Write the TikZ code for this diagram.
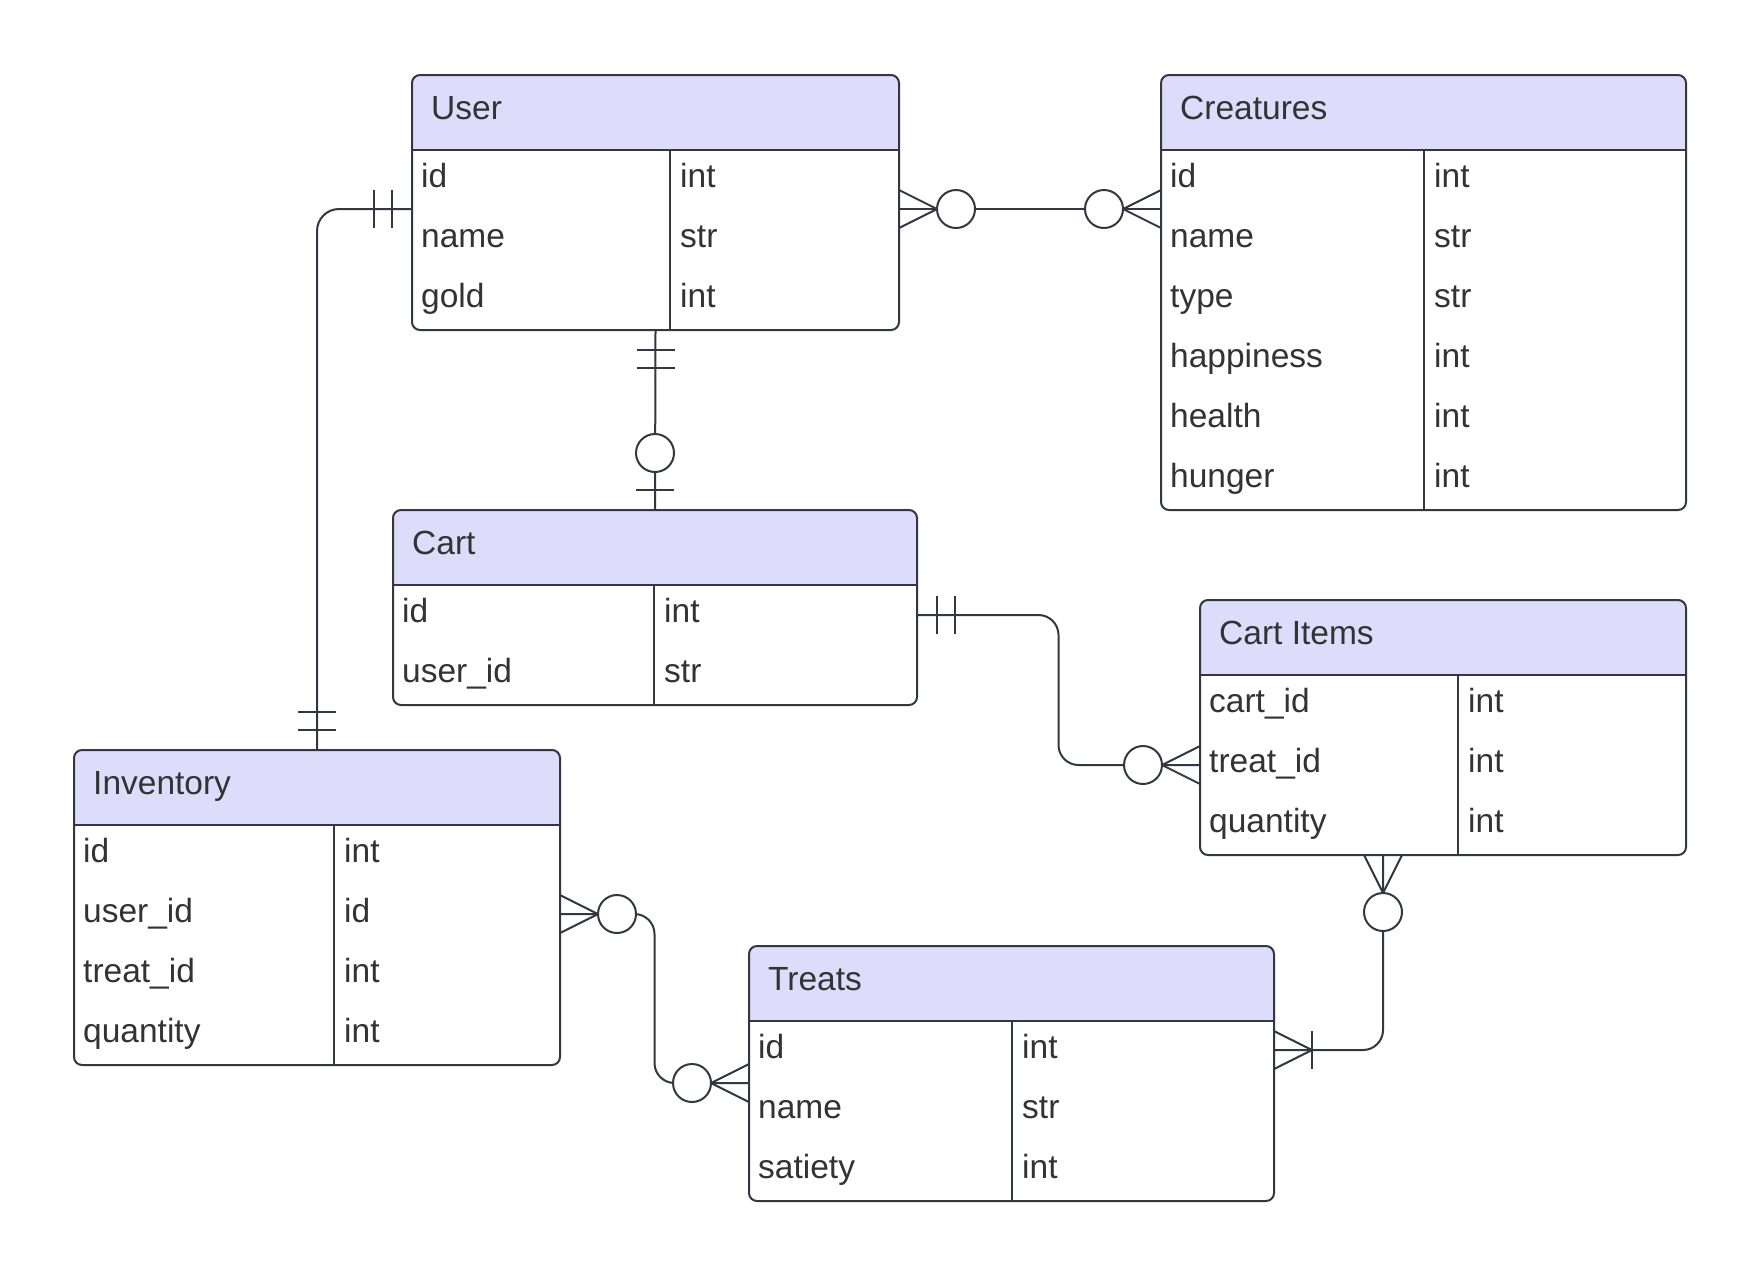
\documentclass[tikz,border=0pt]{standalone}
\usepackage{fontspec}
\setmainfont{Liberation Sans}
\usetikzlibrary{calc}
\definecolor{lnc}{RGB}{51,55,65}
\definecolor{txc}{RGB}{51,51,51}
\definecolor{hdr}{RGB}{221,221,251}
\tikzset{
  tline/.style={draw=lnc, line width=2pt},
  conn/.style={draw=lnc, line width=2pt},
  tbl/.style={draw=none, inner sep=0pt, outer sep=0pt},
  ttl/.style={inner sep=0pt, text=txc, font=\fontsize{33.5}{40}\selectfont},
  fld/.style={inner sep=0pt, text=txc, font=\fontsize{33.5}{40}\selectfont},
  pics/crowzero/.style={code={
    \draw[conn] (0,19) -- (38,0) -- (0,-19);
    \draw[conn, fill=white] (57,0) circle[radius=19];
  }},
  pics/onlyone/.style={code={
    \draw[conn] (20,19) -- (20,-19);
    \draw[conn] (38,19) -- (38,-19);
  }},
  pics/zeroone/.style={code={
    \draw[conn] (20,19) -- (20,-19);
    \draw[conn, fill=white] (57,0) circle[radius=19];
  }},
  pics/onemany/.style={code={
    \draw[conn] (0,19) -- (38,0) -- (0,-19);
    \draw[conn] (38,19) -- (38,-19);
  }}
}
% #1 name, #2 x, #3 y, #4 width, #5 divider offset, #6 rows, #7 title, #8 list
\newcommand\ertable[8]{%
  \pgfmathsetmacro\erH{75+60*#6}%
  \node[tbl, minimum width=#4pt, minimum height=\erH pt, anchor=north west] (#1) at (#2,#3) {};
  \begin{scope}
    \clip[rounded corners=8pt] (#1.north west) rectangle (#1.south east);
    \fill[hdr] (#1.north west) rectangle ([yshift=-75pt]#1.north east);
  \end{scope}
  \draw[tline, rounded corners=8pt] (#1.north west) rectangle (#1.south east);
  \draw[tline] ([yshift=-75pt]#1.north west) -- ([yshift=-75pt]#1.north east);
  \draw[tline] ([xshift=#5pt,yshift=-75pt]#1.north west) -- ([xshift=#5pt]#1.south west);
  \node[ttl, anchor=base west] (#1-title) at ([xshift=19pt,yshift=-44pt]#1.north west) {#7};
  \foreach \f/\t [count=\i] in {#8} {
    \pgfmathsetmacro\ery{-112-60*(\i-1)}
    \node[fld, anchor=base west] (#1-f\i) at ([xshift=9pt,yshift=\ery pt]#1.north west) {\f};
    \node[fld, anchor=base west] (#1-t\i) at ([xshift=#5pt+10pt,yshift=\ery pt]#1.north west) {\t};
  }
}
\begin{document}
\begin{tikzpicture}[x=1pt,y=-1pt]
\useasboundingbox (0,0) rectangle (1763,1275);
\fill[white] (0,0) rectangle (1763,1275);

\ertable{user}{412}{75}{487}{258}{3}{User}{id/int, name/str, gold/int}
\ertable{creatures}{1161}{75}{525}{263}{6}{Creatures}{id/int, name/str, type/str, happiness/int, health/int, hunger/int}
\ertable{cart}{393}{510}{524}{261}{2}{Cart}{id/int, user\_id/str}
\ertable{cartitems}{1200}{600}{486}{258}{3}{Cart Items}{cart\_id/int, treat\_id/int, quantity/int}
\ertable{inventory}{74}{750}{486}{260}{4}{Inventory}{id/int, user\_id/id, treat\_id/int, quantity/int}
\ertable{treats}{749}{946}{525}{263}{3}{Treats}{id/int, name/str, satiety/int}

% connector end points
\coordinate (U1) at ([yshift=-134pt]user.north east);
\coordinate (C1) at ([yshift=-134pt]creatures.north west);
\coordinate (U2) at ([yshift=-134pt]user.north west);
\coordinate (K1) at ([yshift=-105pt]cart.north east);
\coordinate (I1) at ([yshift=-165pt]cartitems.north west);
\coordinate (I2) at ([xshift=183pt]cartitems.south west);
\coordinate (T1) at ([yshift=-104pt]treats.north east);
\coordinate (V1) at ([yshift=-164pt]inventory.north east);
\coordinate (T2) at ([yshift=-137pt]treats.north west);

% connectors
\draw[conn] (U1) -- (C1);
\draw[conn, rounded corners=22pt] (U2) -| (inventory.north);
\draw[conn] (user.south) -- (cart.north);
\draw[conn, rounded corners=20pt] (K1) -| ($(K1)!0.5!(I1)$) |- (I1);
\draw[conn, rounded corners=20pt] (I2) |- (T1);
\draw[conn, rounded corners=20pt] (V1) -| ($(V1)!0.5!(T2)$) |- (T2);

% end symbols
\pic at (U1) {crowzero};
\pic[rotate=180] at (C1) {crowzero};
\pic[rotate=180] at (U2) {onlyone};
\pic[rotate=90] at (inventory.north) {onlyone};
\pic[rotate=-90] at (user.south) {onlyone};
\pic[rotate=90] at (cart.north) {zeroone};
\pic at (K1) {onlyone};
\pic[rotate=180] at (I1) {crowzero};
\pic[rotate=-90] at (I2) {crowzero};
\pic at (T1) {onemany};
\pic at (V1) {crowzero};
\pic[rotate=180] at (T2) {crowzero};
\end{tikzpicture}
\end{document}
